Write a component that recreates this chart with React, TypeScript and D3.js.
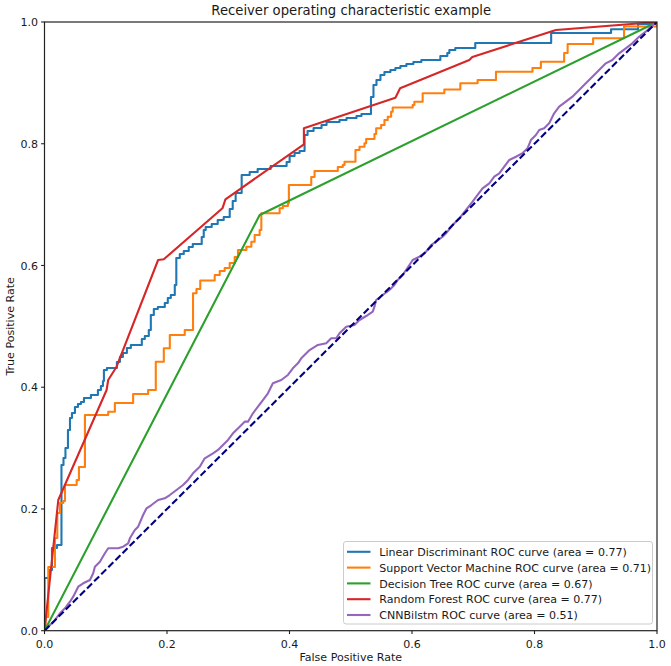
import React from "react";
import * as d3 from "d3";

// ---------- data ----------
const ldaFpr = [0, 0, 0.0073, 0.0122, 0.0204, 0.0277, 0.031, 0.0342, 0.0383, 0.0416, 0.0448, 0.0497, 0.0546, 0.0595, 0.0644, 0.0758, 0.0872, 0.0921, 0.0954, 0.097, 0.1019, 0.1182, 0.1231, 0.128, 0.1345, 0.141, 0.1589, 0.1638, 0.1703, 0.1736, 0.1785, 0.185, 0.1964, 0.2013, 0.2062, 0.2127, 0.2152, 0.2209, 0.2274, 0.2355, 0.2421, 0.2567, 0.26, 0.2632, 0.273, 0.2828, 0.2926, 0.3024, 0.3073, 0.3121, 0.3219, 0.335, 0.348, 0.3692, 0.3953, 0.4002, 0.4083, 0.4165, 0.4246, 0.4295, 0.4393, 0.4523, 0.4605, 0.4817, 0.4931, 0.5094, 0.5175, 0.533, 0.5371, 0.542, 0.5485, 0.555, 0.5648, 0.5729, 0.5811, 0.5909, 0.6023, 0.6153, 0.6463, 0.6577, 0.661, 0.6707, 0.7033, 0.8272, 0.925, 0.969, 0.9951, 1];
const ldaTpr = [0, 0.0866, 0.0997, 0.1359, 0.1408, 0.2722, 0.2837, 0.3002, 0.3297, 0.3494, 0.3577, 0.3675, 0.3725, 0.3757, 0.3823, 0.3872, 0.3955, 0.402, 0.4102, 0.4283, 0.4316, 0.4414, 0.4497, 0.4562, 0.4644, 0.4694, 0.4792, 0.4842, 0.494, 0.5187, 0.5285, 0.5318, 0.5384, 0.5466, 0.5515, 0.5679, 0.6123, 0.6189, 0.6238, 0.6304, 0.6353, 0.6468, 0.6583, 0.6632, 0.6682, 0.6747, 0.6797, 0.6928, 0.706, 0.7191, 0.7487, 0.7536, 0.7585, 0.7635, 0.77, 0.7799, 0.7848, 0.7881, 0.8144, 0.8209, 0.8259, 0.8308, 0.8357, 0.839, 0.8423, 0.8456, 0.8489, 0.8768, 0.8965, 0.9047, 0.9129, 0.9179, 0.9212, 0.9244, 0.9277, 0.931, 0.9343, 0.9376, 0.9442, 0.9491, 0.954, 0.9573, 0.9655, 0.9819, 0.988, 0.9967, 1, 1];

const svmFpr = [0, 0.0016, 0.0062, 0.0171, 0.0209, 0.0253, 0.0306, 0.0334, 0.0525, 0.0562, 0.066, 0.104, 0.1149, 0.1447, 0.1692, 0.1817, 0.1948, 0.2046, 0.229, 0.2425, 0.2481, 0.2543, 0.2779, 0.2861, 0.2942, 0.3024, 0.3105, 0.3159, 0.3296, 0.3377, 0.3431, 0.3513, 0.354, 0.3839, 0.3892, 0.3974, 0.399, 0.4355, 0.4409, 0.4789, 0.487, 0.4898, 0.5077, 0.5143, 0.5224, 0.5252, 0.5387, 0.5415, 0.5496, 0.555, 0.5604, 0.5659, 0.5685, 0.6011, 0.6039, 0.6174, 0.6528, 0.6789, 0.7071, 0.7371, 0.7967, 0.8104, 0.8484, 0.8541, 0.8957, 0.9462, 1];
const svmTpr = [0, 0.0225, 0.1046, 0.1523, 0.1934, 0.2098, 0.2131, 0.2394, 0.2476, 0.2689, 0.3544, 0.3598, 0.3741, 0.3889, 0.3954, 0.4419, 0.4639, 0.4858, 0.494, 0.5543, 0.5614, 0.5753, 0.5844, 0.5909, 0.5959, 0.6041, 0.6139, 0.6254, 0.6308, 0.6391, 0.6501, 0.6583, 0.6857, 0.6939, 0.6977, 0.7021, 0.7322, 0.7454, 0.7552, 0.7618, 0.7651, 0.7705, 0.7897, 0.7951, 0.8008, 0.8078, 0.816, 0.8254, 0.8308, 0.839, 0.8444, 0.8526, 0.8595, 0.8636, 0.8691, 0.8829, 0.8891, 0.8993, 0.9047, 0.9183, 0.9244, 0.9348, 0.9491, 0.9638, 0.9732, 0.9926, 1];

const dtFpr = [0, 0.3513, 1];
const dtTpr = [0, 0.683, 1];

const rfFpr = [0, 0.0225, 0.1014, 0.104, 0.1177, 0.1855, 0.1948, 0.2905, 0.2954, 0.4235, 0.4235, 0.5729, 0.5806, 0.6936, 0.6985, 0.835, 1];
const rfTpr = [0, 0.2147, 0.3954, 0.4119, 0.4337, 0.609, 0.6102, 0.6939, 0.7087, 0.7991, 0.8254, 0.8756, 0.8911, 0.9376, 0.9425, 0.9869, 1];

const cnnFpr = [0, 0.009, 0.0171, 0.0253, 0.0334, 0.0416, 0.0469, 0.0551, 0.0632, 0.0742, 0.0795, 0.0823, 0.0905, 0.0986, 0.104, 0.1203, 0.1284, 0.1366, 0.1394, 0.1475, 0.1529, 0.161, 0.1666, 0.1747, 0.1855, 0.1964, 0.2046, 0.2155, 0.2262, 0.2344, 0.2425, 0.2535, 0.2616, 0.2751, 0.2833, 0.2914, 0.2996, 0.3077, 0.3187, 0.3268, 0.3322, 0.3403, 0.3485, 0.3566, 0.3648, 0.3729, 0.3866, 0.3974, 0.4055, 0.4137, 0.4192, 0.4274, 0.4328, 0.4463, 0.46, 0.4681, 0.4763, 0.4817, 0.4926, 0.5061, 0.5143, 0.5252, 0.5359, 0.5387, 0.5415, 0.5522, 0.5632, 0.5713, 0.5767, 0.5848, 0.5958, 0.6011, 0.6121, 0.623, 0.6311, 0.6393, 0.65, 0.6556, 0.6663, 0.6773, 0.6882, 0.6989, 0.7071, 0.7152, 0.7262, 0.7343, 0.7425, 0.7506, 0.7588, 0.7697, 0.7804, 0.7886, 0.7941, 0.8023, 0.8077, 0.8158, 0.824, 0.8321, 0.8403, 0.8512, 0.8619, 0.8729, 0.8838, 0.8945, 0.9055, 0.9164, 0.9271, 0.9381, 0.949, 0.9597, 0.9707, 0.9816, 0.9951, 1];
const cnnTpr = [0, 0.0094, 0.0176, 0.0286, 0.0368, 0.0476, 0.0559, 0.0723, 0.0779, 0.0833, 0.0943, 0.1051, 0.1134, 0.1272, 0.1354, 0.1354, 0.138, 0.1436, 0.1518, 0.1654, 0.1709, 0.1901, 0.2011, 0.2065, 0.2147, 0.2175, 0.2229, 0.2311, 0.2394, 0.2476, 0.2586, 0.2694, 0.2832, 0.2914, 0.2969, 0.3051, 0.3133, 0.3243, 0.3351, 0.3434, 0.3434, 0.3572, 0.368, 0.379, 0.39, 0.4064, 0.4119, 0.4201, 0.4311, 0.4393, 0.4475, 0.4557, 0.4611, 0.4694, 0.4722, 0.4804, 0.4804, 0.4886, 0.4994, 0.5022, 0.5104, 0.517, 0.5241, 0.5323, 0.5433, 0.5515, 0.5597, 0.5679, 0.5761, 0.5844, 0.6008, 0.609, 0.6144, 0.6226, 0.6336, 0.6391, 0.6473, 0.6529, 0.6665, 0.6775, 0.6911, 0.7048, 0.7158, 0.7268, 0.735, 0.7458, 0.7514, 0.7623, 0.7733, 0.7787, 0.7843, 0.7925, 0.8061, 0.8144, 0.8226, 0.8254, 0.8336, 0.85, 0.8609, 0.8691, 0.8773, 0.8883, 0.8993, 0.9101, 0.9211, 0.9321, 0.9376, 0.9486, 0.9568, 0.965, 0.9758, 0.9841, 0.9967, 1];

const chanceFpr = [0, 1];
const chanceTpr = [0, 1];

const seriesNames = [
  "Linear Discriminant ROC curve (area = 0.77)",
  "Support Vector Machine ROC curve (area = 0.71)",
  "Decision Tree ROC curve (area = 0.67)",
  "Random Forest ROC curve (area = 0.77)",
  "CNNBilstm ROC curve (area = 0.51)",
];
const seriesColors = ["#1f77b4", "#ff7f0e", "#2ca02c", "#d62728", "#9467bd"];
const tickValues = [0, 0.2, 0.4, 0.6, 0.8, 1.0];

const W = 671;
const H = 666;
const M = { left: 44.5, right: 657, top: 22, bottom: 630.7 };
const FONT = "'DejaVu Sans', sans-serif";
const FS = 11.05;

export default function App() {
  const x = d3.scaleLinear().domain([0, 1]).range([M.left, M.right]);
  const y = d3.scaleLinear().domain([0, 1.0]).range([M.bottom, M.top]);

  const zip = (a: number[], b: number[]) => a.map((v, i) => [v, b[i]] as [number, number]);
  const lineLin = d3.line<[number, number]>().x((d) => x(d[0])).y((d) => y(d[1]));
  const lineStep = d3
    .line<[number, number]>()
    .x((d) => x(d[0]))
    .y((d) => y(d[1]))
    .curve(d3.curveStepAfter);

  const paths = [
    lineStep(zip(ldaFpr, ldaTpr)),
    lineStep(zip(svmFpr, svmTpr)),
    lineLin(zip(dtFpr, dtTpr)),
    lineLin(zip(rfFpr, rfTpr)),
    lineLin(zip(cnnFpr, cnnTpr)),
  ];

  const legX = 343.5;
  const legY = 541.5;
  const legW = 309;
  const legH = 82.5;
  const rowY0 = 551.8;
  const rowGap = 15.8;

  return (
    <svg
      width={W}
      height={H}
      style={{ position: "absolute", left: 0, top: 0, background: "#fff" }}
      fontFamily={FONT}
    >
      <rect x={0} y={0} width={W} height={H} fill="#fff" />
      <defs>
        <clipPath id="plotclip">
          <rect x={M.left} y={M.top} width={M.right - M.left} height={M.bottom - M.top} />
        </clipPath>
      </defs>

      <g clipPath="url(#plotclip)" fill="none" strokeWidth={2.1} strokeLinejoin="round">
        {paths.map((p, i) => (
          <path key={i} d={p || ""} stroke={seriesColors[i]} />
        ))}
        <path
          d={lineLin(zip(chanceFpr, chanceTpr)) || ""}
          stroke="#000080"
          strokeDasharray="7,3"
          strokeWidth={2.1}
        />
      </g>

      {/* spines */}
      <rect
        x={M.left}
        y={M.top}
        width={M.right - M.left}
        height={M.bottom - M.top}
        fill="none"
        stroke="#222"
        strokeWidth={1.2}
      />

      {/* x ticks */}
      {tickValues.map((t) => (
        <g key={"x" + t}>
          <line x1={x(t)} x2={x(t)} y1={M.bottom} y2={M.bottom + 3.4} stroke="#222" strokeWidth={1.1} />
          <text x={x(t)} y={M.bottom + 16.8} textAnchor="middle" fontSize={FS} fill="#1a1a1a">
            {t.toFixed(1)}
          </text>
        </g>
      ))}
      {/* y ticks */}
      {tickValues.map((t) => (
        <g key={"y" + t}>
          <line x1={M.left - 3.4} x2={M.left} y1={y(t)} y2={y(t)} stroke="#222" strokeWidth={1.1} />
          <text x={M.left - 6.5} y={y(t) + 4.1} textAnchor="end" fontSize={FS} fill="#1a1a1a">
            {t.toFixed(1)}
          </text>
        </g>
      ))}

      {/* labels */}
      <text x={(M.left + M.right) / 2} y={661} textAnchor="middle" fontSize={FS} fill="#1a1a1a">
        False Positive Rate
      </text>
      <text
        transform={`translate(13.5, ${(M.top + M.bottom) / 2}) rotate(-90)`}
        textAnchor="middle"
        fontSize={FS}
        fill="#1a1a1a"
      >
        True Positive Rate
      </text>
      <text x={(M.left + M.right) / 2 + 0.5} y={15} textAnchor="middle" fontSize={13.2} fill="#1a1a1a">
        Receiver operating characteristic example
      </text>

      {/* legend */}
      <rect
        x={legX}
        y={legY}
        width={legW}
        height={legH}
        rx={2.5}
        fill="#fff"
        fillOpacity={0.8}
        stroke="#ccc"
        strokeWidth={1}
      />
      {seriesNames.map((name, i) => (
        <g key={name}>
          <line
            x1={347}
            x2={370.5}
            y1={rowY0 + i * rowGap}
            y2={rowY0 + i * rowGap}
            stroke={seriesColors[i]}
            strokeWidth={2.1}
          />
          <text x={379.3} y={rowY0 + i * rowGap + 4.1} fontSize={FS} fill="#1a1a1a">
            {name}
          </text>
        </g>
      ))}
    </svg>
  );
}
